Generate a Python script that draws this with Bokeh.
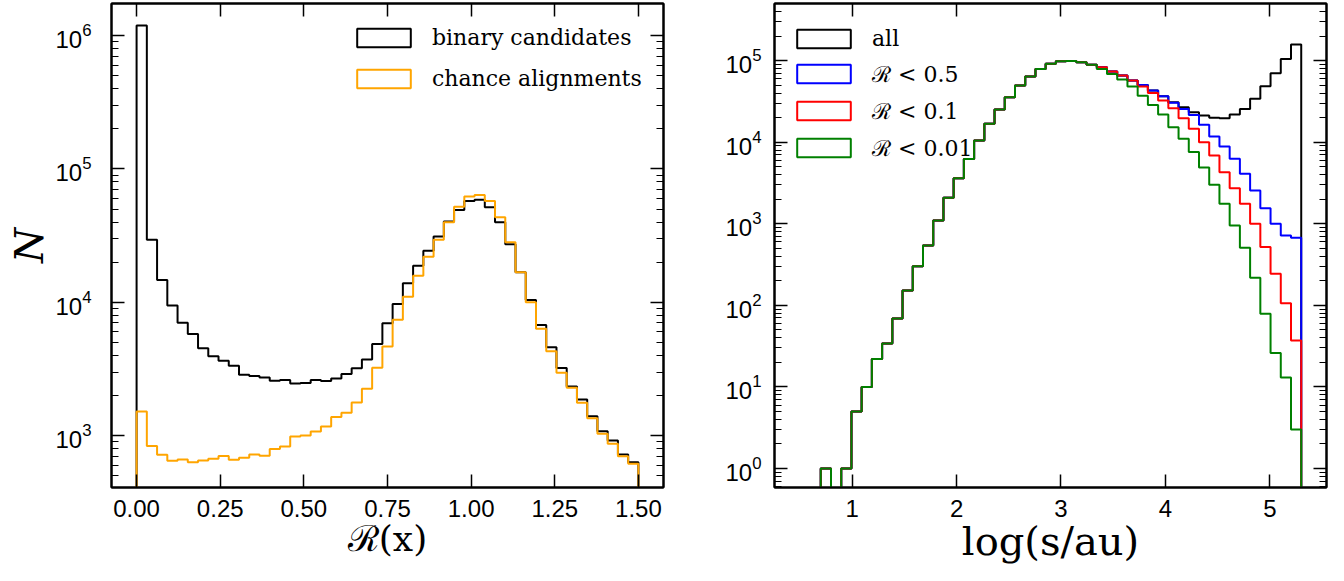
import numpy as np
from bokeh.plotting import figure
from bokeh.layouts import row
from bokeh.models import (FixedTicker, LogAxis, LinearAxis, NumeralTickFormatter,
                          CustomJSTickFormatter, Legend, LegendItem, Range1d)
from bokeh.embed import file_html
from bokeh.resources import INLINE

# ---------------- data: left panel (R(x) histogram, 49 bins on [0, 1.5]) ----------------
r_edge_lo, r_edge_hi, r_nbins = 0.0, 1.5, 49
binary_candidates = [1190000, 29400, 14700, 9450, 7020, 5800, 4520, 3940, 3650, 3350,
                     2860, 2800, 2730, 2580, 2620, 2460, 2490, 2620, 2570, 2690,
                     2900, 3200, 3720, 4880, 6960, 9730, 13900, 18800, 24400, 31100,
                     40300, 49300, 57500, 58700, 51700, 39800, 27200, 16800, 10400, 6760,
                     4600, 3220, 2340, 1870, 1400, 1080, 922, 724, 634]
chance_alignments = [1520, 836, 720, 649, 664, 634, 653, 673, 704, 661,
                     684, 724, 708, 794, 832, 988, 1005, 1077, 1174, 1380,
                     1487, 1778, 2250, 3236, 4670, 7400, 11000, 15800, 22000, 29400,
                     39800, 52100, 62000, 63800, 57500, 43500, 28200, 16800, 10000, 6340,
                     4290, 2970, 2290, 1767, 1355, 1035, 871, 703, 617]
r_ticks = [0.0, 0.25, 0.5, 0.75, 1.0, 1.25, 1.5]
left_y_ticks = [1e3, 1e4, 1e5, 1e6]

# ---------------- data: right panel (log separation histogram, 47 bins) ----------------
s_edge_lo, s_edge_hi, s_nbins = 0.70, 5.30, 47
sep_all = [1, 0, 1, 5, 10, 22, 34, 69, 152, 302,
           542, 1100, 2080, 3610, 6240, 10500, 16800, 25100, 35600, 49400,
           63700, 79000, 91200, 98100, 99100, 95400, 89000, 82800, 73300, 65500,
           56900, 50400, 42900, 36600, 30900, 26800, 23300, 21200, 19900, 19600,
           21800, 25600, 34000, 48500, 70000, 105000, 157000]
sep_r05 = [1, 0, 1, 5, 10, 22, 34, 69, 152, 302,
           542, 1100, 2080, 3610, 6240, 10500, 16800, 25100, 35600, 49400,
           63700, 79000, 91200, 98100, 99100, 95400, 89000, 82800, 73300, 65500,
           56900, 50400, 42900, 36600, 30400, 25600, 21600, 16400, 11700, 8850,
           6250, 4090, 2560, 1550, 1000, 720, 673]
sep_r01 = [1, 0, 1, 5, 10, 22, 34, 69, 152, 302,
           542, 1100, 2080, 3610, 6240, 10500, 16800, 25100, 35600, 49400,
           63700, 79000, 91200, 98100, 99100, 95400, 89000, 82800, 73300, 65500,
           56900, 48100, 40200, 32400, 26100, 19600, 14600, 10000, 6870, 4290,
           2730, 1760, 1000, 518, 244, 106, 37]
sep_r001 = [1, 0, 1, 5, 10, 22, 34, 69, 152, 302,
            542, 1100, 2080, 3610, 6240, 10500, 16800, 25100, 35600, 49400,
            63700, 79000, 91200, 98100, 99100, 95400, 89000, 79100, 68700, 58500,
            48100, 37200, 28600, 21800, 15200, 11000, 7600, 4900, 3010, 1760,
            953, 508, 218, 79, 26, 13, 3]
s_ticks = [1, 2, 3, 4, 5]
right_y_ticks = [1e0, 1e1, 1e2, 1e3, 1e4, 1e5]

TICK_FONT = "Liberation Sans"
SERIF = "DejaVu Serif"


def step_xy(edges, counts, floor):
    xs = [edges[0]]
    ys = [floor]
    for i, c in enumerate(counts):
        v = c if c > 0 else floor
        xs += [edges[i], edges[i + 1]]
        ys += [v, v]
    xs.append(edges[-1])
    ys.append(floor)
    return xs, ys


def minor_logs(lo_exp, hi_exp):
    return [m * 10.0 ** e for e in range(lo_exp, hi_exp + 1) for m in range(2, 10)]


def style_axis(ax, label_size="24px"):
    ax.axis_line_color = "black"
    ax.axis_line_width = 2
    ax.major_tick_line_color = "black"
    ax.major_tick_line_width = 1.5
    ax.minor_tick_line_color = "black"
    ax.minor_tick_line_width = 1.2
    ax.major_tick_in = 13
    ax.major_tick_out = 0
    ax.minor_tick_in = 7
    ax.minor_tick_out = 0
    ax.major_label_text_font = TICK_FONT
    ax.major_label_text_font_size = label_size
    ax.major_label_text_color = "black"
    ax.axis_label_text_color = "black"


def add_mirror_axes(p, xticker, yticker):
    top = LinearAxis(ticker=xticker, formatter=CustomJSTickFormatter(code="return ''"))
    right = LogAxis(ticker=yticker, formatter=CustomJSTickFormatter(code="return ''"))
    for ax in (top, right):
        style_axis(ax, label_size="1px")
        ax.major_label_standoff = 0
    p.add_layout(top, "above")
    p.add_layout(right, "right")


def make_fig(x_range, y_range, border_left, border_right):
    p = figure(frame_width=552, frame_height=484, y_axis_type="log",
               x_range=x_range, y_range=y_range,
               output_backend="svg", toolbar_location=None,
               min_border_left=border_left, min_border_right=border_right,
               min_border_top=3, min_border_bottom=94)
    p.xgrid.visible = False
    p.ygrid.visible = False
    p.outline_line_color = "black"
    p.outline_line_width = 2
    p.background_fill_color = "white"
    p.border_fill_color = "white"
    return p


def make_legend(items, location, spacing):
    return Legend(items=items, location=location, glyph_width=67, glyph_height=23,
                  label_height=23, label_standoff=15, spacing=spacing, padding=0, margin=0,
                  border_line_alpha=0, background_fill_alpha=0,
                  label_text_font=SERIF, label_text_font_size="22px",
                  label_text_color="black")


# ---------------- left panel ----------------
r_edges = list(np.linspace(r_edge_lo, r_edge_hi, r_nbins + 1))
p1 = make_fig(Range1d(-0.075, 1.575), Range1d(10 ** 2.612, 10 ** 6.24), 111, 40)
xt1 = FixedTicker(ticks=r_ticks, minor_ticks=[])
yt1 = FixedTicker(ticks=left_y_ticks, minor_ticks=minor_logs(2, 6))
p1.xaxis.ticker = xt1
p1.xaxis.formatter = NumeralTickFormatter(format="0.00")
p1.yaxis.ticker = yt1
for ax in p1.xaxis + p1.yaxis:
    style_axis(ax)
p1.xaxis.major_label_standoff = 12
p1.yaxis.major_label_standoff = 20
p1.xaxis.axis_label = "\u211B(x)"
p1.xaxis.axis_label_text_font = SERIF
p1.xaxis.axis_label_text_font_style = "normal"
p1.xaxis.axis_label_text_font_size = "36px"
p1.xaxis.axis_label_standoff = -2
p1.yaxis.axis_label = "N"
p1.yaxis.axis_label_text_font = SERIF
p1.yaxis.axis_label_text_font_style = "italic"
p1.yaxis.axis_label_text_font_size = "40px"
p1.yaxis.axis_label_standoff = 0
add_mirror_axes(p1, xt1, yt1)

bx, by = step_xy(r_edges, binary_candidates, 1e-1)
cx, cy = step_xy(r_edges, chance_alignments, 1e-1)
p1.line(bx, by, line_color="black", line_width=2)
p1.line(cx, cy, line_color="orange", line_width=2)

nan1 = np.array([np.nan])
d_b = p1.quad(left=nan1, right=nan1, top=nan1, bottom=nan1, fill_alpha=0,
              line_color="black", line_width=2)
d_c = p1.quad(left=nan1, right=nan1, top=nan1, bottom=nan1, fill_alpha=0,
              line_color="orange", line_width=2)
p1.add_layout(make_legend([LegendItem(label="binary candidates", renderers=[d_b]),
                           LegendItem(label="chance alignments", renderers=[d_c])],
                          (239, 396), 16))

# ---------------- right panel ----------------
s_edges = list(np.linspace(s_edge_lo, s_edge_hi, s_nbins + 1))
p2 = make_fig(Range1d(0.257, 5.542), Range1d(10 ** -0.233, 10 ** 5.70), 71, 17)
xt2 = FixedTicker(ticks=s_ticks, minor_ticks=[])
yt2 = FixedTicker(ticks=right_y_ticks, minor_ticks=minor_logs(-1, 5))
p2.xaxis.ticker = xt2
p2.xaxis.formatter = NumeralTickFormatter(format="0")
p2.yaxis.ticker = yt2
for ax in p2.xaxis + p2.yaxis:
    style_axis(ax)
p2.xaxis.major_label_standoff = 12
p2.yaxis.major_label_standoff = 13
p2.xaxis.axis_label = "log(s/au)"
p2.xaxis.axis_label_text_font = SERIF
p2.xaxis.axis_label_text_font_style = "normal"
p2.xaxis.axis_label_text_font_size = "40px"
p2.xaxis.axis_label_standoff = -2
add_mirror_axes(p2, xt2, yt2)

series = [(sep_all, "black", "all"), (sep_r05, "blue", "\u211B < 0.5"),
          (sep_r01, "red", "\u211B < 0.1"), (sep_r001, "green", "\u211B < 0.01")]
items = []
for counts, color, label in series:
    sx, sy = step_xy(s_edges, counts, 1e-2)
    p2.line(sx, sy, line_color=color, line_width=2)
for counts, color, label in series:
    d = p2.quad(left=nan1, right=nan1, top=nan1, bottom=nan1, fill_alpha=0,
                line_color=color, line_width=2)
    items.append(LegendItem(label=label, renderers=[d]))
p2.add_layout(make_legend(items, (16, 325), 7))

layout = row(p1, p2)
open("out.html", "w").write(file_html(layout, INLINE))
